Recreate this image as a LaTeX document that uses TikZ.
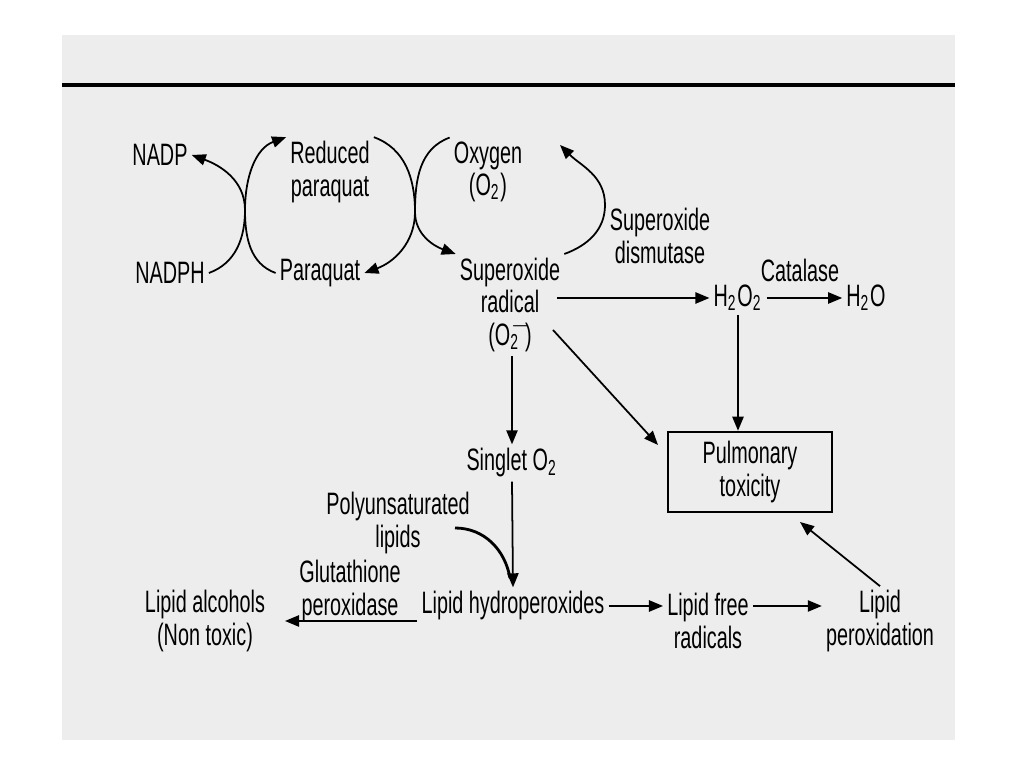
\documentclass[tikz,border=0pt]{standalone}
\usepackage{fontspec}
\setmainfont[FakeStretch=0.64]{Liberation Sans}
\usetikzlibrary{arrows.meta}

\begin{document}
\begin{tikzpicture}[x=0.01cm,y=-0.01cm,
    txt/.style={inner sep=1pt,align=center,font=\fontsize{8.8}{9.2}\selectfont},
    arr/.style={-{Triangle[length=4pt,width=3.2pt]},line width=0.5pt}]
    \useasboundingbox (0,0) rectangle (1024,768);
    \fill[gray!14] (62,35) rectangle (955,740);
    \draw[line width=0.9pt] (62,85) -- (955,85);
		
		% cycle part
		\node[txt] (nadp) at (160,155) {NADP};
		\node[txt] (nadph) at (170,273) {NADPH};
		\node[txt] (redpq) at (330,172) {Reduced\\paraquat};
		\node[txt] (pq) at (320,273) {Paraquat};
		\node[txt] (oxy) at (488,172) {Oxygen\\(O\textsubscript{2})};
		\node[txt] (sor) at (510,305) {Superoxide\\radical\\(O\rlap{\textsuperscript{$-$}}\textsubscript{2}\,)};
		\node[txt] (sod) at (660,236) {Superoxide\\dismutase};
		\node[txt] (hoo) at (738,298) {H\textsubscript{2}O\textsubscript{2}};
		\node[txt] (cat) at (800,270) {Catalase};
		\node[txt] (ho) at (866,298) {H\textsubscript{2}O};
		
		% lower part
		\node[txt] (singlet) at (512,463) {Singlet O\textsubscript{2}};
		\node[txt,draw,line width=0.7pt,minimum width=1.64cm,minimum height=0.8cm] (tox) at (750,472) {Pulmonary\\toxicity};
		\node[txt] (pufa) at (398,523) {Polyunsaturated\\lipids};
		\node[txt] (gpx) at (350,591) {Glutathione\\peroxidase};
		\node[txt] (lalc) at (205,621) {Lipid alcohols\\(Non toxic)};
		\node[txt] (lhp) at (513,606) {Lipid hydroperoxides};
		\node[txt] (lfr) at (708,621) {Lipid free\\radicals};
		\node[txt] (lpo) at (880,621) {Lipid\\peroxidation};
		
		\coordinate (X1) at (245,210);
		\coordinate (X2) at (415,212);
		\coordinate (gpxend) at (285,621);
		\draw[arr] (nadph.east) to[out=20,in=-90] (X1) to[out=90,in=-20] (nadp.east);
		\draw[arr] (pq.west) to[out=160,in=-90] (X1) to[out=90,in=200] (redpq.north west);
		\draw[arr] (redpq.north east) to[out=-20,in=90] (X2) to[out=-90,in=20] (pq.east);
		\draw[arr] (oxy.north west) to[out=200,in=90] (X2) to[out=-90,in=160] (sor.north west);
		\draw[arr] (sor.north east) to[out=20,in=-90] (605,205) to[out=90,in=-45] (560,145);
		
		\draw[arr] (557,298) -- (hoo.west);
		\draw[arr] (hoo.east) -- (ho.west);
		\draw[arr] (hoo.south) -- (hoo.south |- tox.north);
		\draw[arr] (553,330) -- (658,445);
		\draw[arr] (singlet.north |- sor.south) -- (singlet.north);
		\draw[arr] (singlet.south) -- (lhp.north);
		\draw[line width=0.8pt] (455,528) to[out=0,in=100] (510,578);
		\draw[arr] (lhp.west |- gpxend) -- (gpxend);
		\draw[arr] (lhp.east) -- (lfr.north west |- lhp.east);
		\draw[arr] (lfr.north east |- lhp.east) -- (lpo.north west |- lhp.east);
		\draw[arr] (lpo.north) -- (800,522);
\end{tikzpicture}
\end{document}
